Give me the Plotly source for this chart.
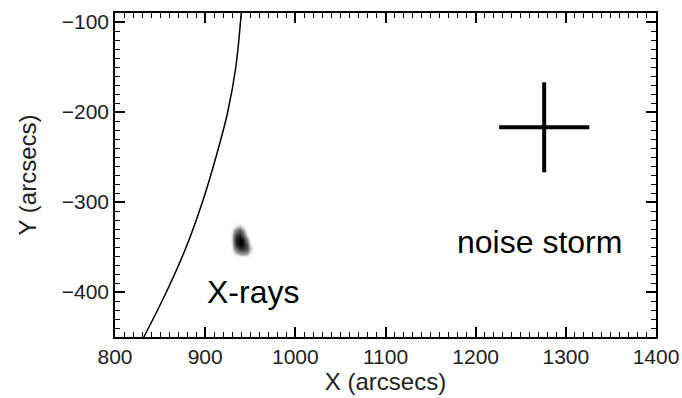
import plotly.graph_objects as go

# Solar limb points
limb_x = [832, 857, 879, 897, 912, 925, 934, 940]
limb_y = [-450, -400, -350, -300, -250, -200, -150, -90]

# X-ray source intensity map
blob_x = [926, 930, 934, 938, 942, 946, 950, 954, 958]
blob_y = [-362, -357, -352, -347, -342, -337, -332, -327, -322]
blob_z = [
    [0, 0, 0, 0, 0, 0, 0, 0, 0],
    [0, 0.05, 0.2, 0.35, 0.4, 0.35, 0.15, 0.03, 0],
    [0, 0.1, 0.55, 0.8, 0.8, 0.65, 0.3, 0.05, 0],
    [0, 0.15, 0.8, 1.0, 0.95, 0.65, 0.2, 0.02, 0],
    [0, 0.2, 0.85, 1.0, 0.9, 0.45, 0.08, 0, 0],
    [0, 0.2, 0.75, 0.9, 0.65, 0.2, 0.02, 0, 0],
    [0, 0.12, 0.5, 0.65, 0.4, 0.06, 0, 0, 0],
    [0, 0.04, 0.18, 0.28, 0.15, 0.02, 0, 0, 0],
    [0, 0, 0, 0, 0, 0, 0, 0, 0],
]

# Noise storm cross
storm_x = 1276
storm_y = -217
storm_half = 50

labels = [
    {"text": "X-rays", "x": 953, "y": -400},
    {"text": "noise storm", "x": 1271, "y": -344},
]

x_ticks = [800, 900, 1000, 1100, 1200, 1300, 1400]
y_ticks = [-100, -200, -300, -400]

fig = go.Figure()
fig.add_trace(go.Heatmap(
    x=blob_x, y=blob_y, z=blob_z, zsmooth="best", showscale=False,
    colorscale=[[0, "rgba(255,255,255,0)"], [0.3, "#a8a8a8"], [1, "#000000"]],
    zmin=0, zmax=1, hoverinfo="skip",
))
fig.add_trace(go.Scatter(x=limb_x, y=limb_y, mode="lines",
                         line=dict(color="black", width=1.5, shape="spline"),
                         hoverinfo="skip"))
fig.add_trace(go.Scatter(x=[storm_x - storm_half, storm_x + storm_half], y=[storm_y, storm_y],
                         mode="lines", line=dict(color="black", width=4)))
fig.add_trace(go.Scatter(x=[storm_x, storm_x], y=[storm_y - storm_half, storm_y + storm_half],
                         mode="lines", line=dict(color="black", width=4)))

for lab in labels:
    fig.add_annotation(x=lab["x"], y=lab["y"], text=lab["text"], showarrow=False,
                       font=dict(size=32, color="black", family="Liberation Sans"))

axis_common = dict(
    showgrid=False, zeroline=False, showline=True, linecolor="black", linewidth=1.5,
    mirror="allticks", ticks="inside", ticklen=10, tickwidth=1.5, tickcolor="black",
    tickfont=dict(size=21, color="#222", family="Liberation Sans"), automargin=False,
)
fig.update_xaxes(range=[800, 1400], tickvals=x_ticks, ticktext=[str(v) for v in x_ticks],
                 title=dict(text="X (arcsecs)", font=dict(size=24, color="#222"), standoff=2),
                 minor=dict(dtick=10, ticks="inside", ticklen=5, tickcolor="black", tickwidth=1),
                 **axis_common)
fig.update_yaxes(range=[-450, -90], tickvals=y_ticks,
                 ticktext=["\u2212" + str(-v) for v in y_ticks],
                 title=dict(text="Y (arcsecs)", font=dict(size=24, color="#222"), standoff=18),
                 minor=dict(dtick=10, tick0=0, ticks="inside", ticklen=5, tickcolor="black", tickwidth=1),
                 **axis_common)
fig.update_layout(
    width=682, height=398, margin=dict(l=115, r=26, t=13, b=61),
    paper_bgcolor="white", plot_bgcolor="white", showlegend=False,
    font=dict(family="Liberation Sans"),
)
fig.write_html("out.html")
